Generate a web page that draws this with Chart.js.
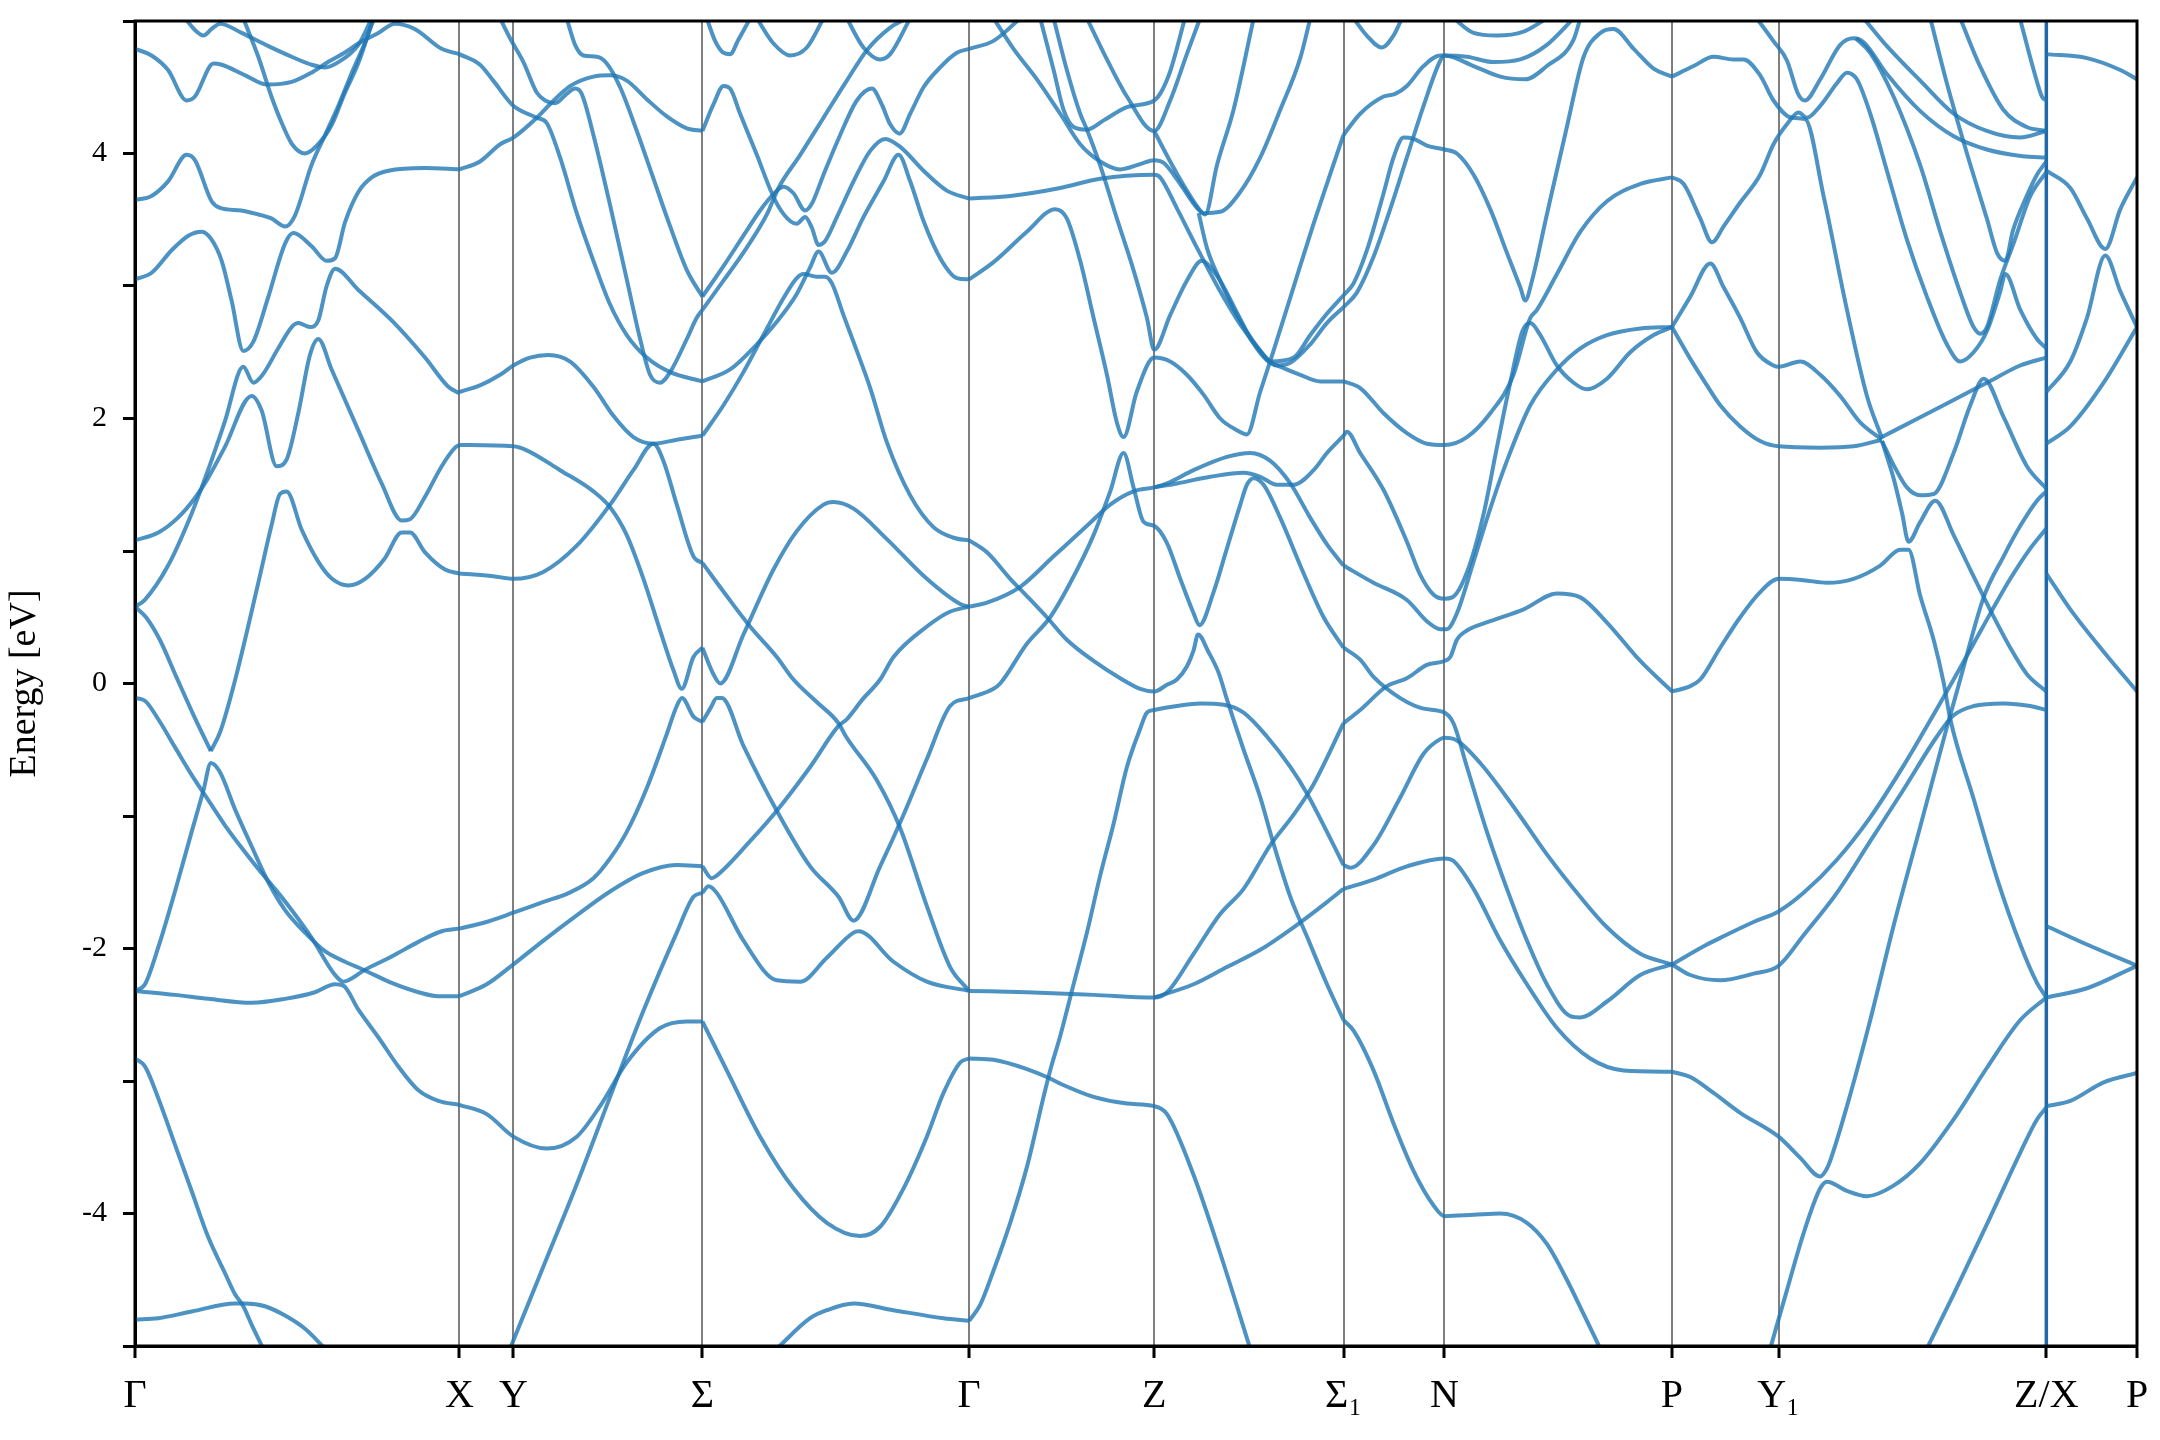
<!DOCTYPE html>
<html>
<head>
<meta charset="utf-8">
<title>Band structure</title>
<script src="https://cdn.jsdelivr.net/npm/chart.js@4.4.1/dist/chart.umd.min.js"></script>
<style>
  html, body { margin: 0; padding: 0; background: #fff; }
  canvas { display: block; }
</style>
</head>
<body>
<canvas id="chart" width="2160" height="1440"></canvas>
<script>
// k-path: high-symmetry points (path length units) and their labels
const kTicks = [0, 235.4, 274.6, 411.8, 605.4, 739.7, 877.1, 950.4, 1115.5, 1192.9, 1387.2, 1453]
const kLabels = ['Γ', 'X', 'Y', 'Σ', 'Γ', 'Z', 'Σ₁', 'N', 'P', 'Y₁', 'Z/X', 'P']
const eRange = [-5, 5]
const jumpK = 1387.2 // Z/X discontinuity

// bands as [k, E(eV)] pairs, one list per path piece

// Γ - X
const pathGX = [
  [[0,4.79],[12,4.74],[24,4.63],[37.5,4.40],[43.5,4.43],[57,4.68],[63,4.67],[80,4.59],[96,4.52],[113.7,4.54],[128,4.61],[140,4.69],[152,4.76],[162,4.83],[176.6,4.91],[188.7,4.98],[203,4.94],[222.6,4.79],[235.4,4.75]],
  [[36.3,5.02],[44.7,4.92],[49.6,4.89],[55.6,4.94],[61.7,4.98],[77.4,4.91],[96.8,4.81],[113.7,4.73],[128.2,4.67],[137.9,4.65],[147.6,4.69],[162.1,4.82],[171.8,5.02]],
  [[78.6,5.02],[89.5,4.73],[99,4.43],[106.5,4.23],[114,4.07],[123.5,4.0],[133,4.07],[143,4.22],[152,4.45],[162,4.68],[173,5.02]],
  [[0,3.65],[12,3.68],[24,3.79],[37.5,3.99],[43.5,3.95],[55.6,3.64],[61.7,3.59],[77,3.57],[89.5,3.54],[99,3.51],[109,3.45],[116,3.53],[128,3.91],[138,4.14],[148,4.37],[157,4.60],[167,4.84],[173.5,5.02]],
  [[0,3.05],[12.1,3.10],[26.6,3.27],[38.7,3.38],[48.4,3.41],[55.6,3.35],[62.9,3.19],[70.1,2.89],[78.6,2.51],[85.9,2.58],[96.8,2.92],[108.9,3.32],[114.9,3.40],[128.2,3.30],[139.1,3.19],[145.2,3.21],[152.4,3.48],[162.1,3.71],[171.8,3.82],[183.9,3.87],[210.5,3.89],[235.4,3.88]],
  [[0,0.58],[7,0.63],[24,0.89],[41,1.28],[53,1.61],[65,1.97],[78.6,2.39],[85.9,2.27],[91.9,2.32],[104,2.53],[113.7,2.69],[118.5,2.72],[127,2.69],[133,2.74],[139.1,3.0],[145.2,3.13],[162.1,2.97],[186.3,2.74],[210.5,2.46],[227.4,2.24],[235.4,2.19]],
  [[0,1.08],[17,1.14],[31,1.25],[43.5,1.40],[53,1.55],[65,1.78],[84.7,2.17],[91.9,2.06],[102.8,1.64],[110,1.69],[118.5,2.04],[127,2.48],[133,2.60],[142.7,2.37],[162.1,1.91],[179,1.51],[193.6,1.23],[199.6,1.24],[210.5,1.41],[222.6,1.64],[232.3,1.78],[235.4,1.80]],
  [[55,-0.51],[62,-0.36],[72,0.0],[89.5,0.76],[99,1.19],[105.2,1.43],[110,1.45],[121,1.16],[133,0.92],[143,0.79],[155,0.74],[167,0.79],[181,0.94],[193.6,1.14],[199.6,1.14],[210.5,0.99],[225,0.86],[235.4,0.83]],
  [[0,0.58],[8,0.50],[18,0.33],[30,0.05],[43,-0.25],[55,-0.51]],
  [[0,-0.11],[7.2,-0.13],[16.9,-0.27],[29,-0.48],[41.1,-0.69],[55.1,-0.91],[65.3,-1.07],[77.4,-1.24],[89.5,-1.40],[101.6,-1.55],[113.7,-1.71],[128.2,-1.92],[145.2,-2.20],[151.2,-2.25],[167,-2.16],[186.3,-2.06],[205.7,-1.95],[222.6,-1.87],[235.4,-1.85]],
  [[0,-2.32],[7.2,-2.27],[16.9,-1.99],[29,-1.57],[41.1,-1.12],[49.6,-0.81],[55.1,-0.60],[61.7,-0.67],[72.6,-0.95],[84.7,-1.23],[96.8,-1.50],[108.9,-1.71],[123.4,-1.88],[137.9,-2.02],[152.4,-2.10],[165.7,-2.16],[186.3,-2.26],[205.7,-2.33],[220,-2.36],[235.4,-2.36]],
  [[0,-2.32],[29,-2.35],[53.2,-2.38],[84.7,-2.41],[108.9,-2.38],[130.6,-2.33],[145.2,-2.27],[151.2,-2.28],[162,-2.46],[176.6,-2.67],[191.1,-2.89],[205.7,-3.07],[220.2,-3.15],[235.4,-3.18]],
  [[0,-2.83],[7.2,-2.89],[16.9,-3.13],[29,-3.48],[41.1,-3.83],[53.2,-4.18],[65.3,-4.45],[72.6,-4.61],[78.6,-4.70],[84.7,-4.84],[93.1,-5.02]],
  [[0,-4.80],[16.9,-4.79],[41.1,-4.74],[72.6,-4.68],[79.8,-4.68],[94.3,-4.70],[108.9,-4.77],[123.4,-4.87],[138,-5.02]]
]

// X - Y - Σ
const pathXS = [
  [[235.4,4.75],[250.4,4.67],[260,4.55],[274.6,4.36],[291.6,4.27],[298.8,4.23],[308.5,3.97],[320.6,3.55],[332.7,3.19],[344.8,2.86],[356.9,2.63],[371.4,2.46],[388.4,2.35],[411.8,2.28]],
  [[235.4,3.88],[250.4,3.94],[265,4.07],[274.6,4.12],[291.6,4.27],[301,4.37],[316,4.51],[332.7,4.58],[344.8,4.59],[356.9,4.55],[371.4,4.41],[386,4.28],[400.5,4.19],[411.8,4.17]],
  [[265,5.02],[272.2,4.87],[281.9,4.69],[291.6,4.46],[297.6,4.40],[304.9,4.38],[313.3,4.45],[319.4,4.49],[324.2,4.45],[332.7,4.14],[344.8,3.61],[356.9,3.05],[366.6,2.60],[373.8,2.33],[381.1,2.27],[388.4,2.35],[400.5,2.60],[407.7,2.76],[411.8,2.82]],
  [[313.3,5.02],[319.4,4.82],[325.4,4.74],[335.1,4.73],[342.4,4.68],[352.1,4.50],[364.2,4.17],[376.3,3.81],[388.4,3.45],[400.5,3.12],[411.8,2.92]],
  [[235.4,2.20],[250.4,2.25],[265,2.33],[274.6,2.40],[286.7,2.46],[300,2.48],[315.8,2.43],[332.7,2.24],[347.2,2.02],[361.7,1.86],[376.3,1.81],[393.2,1.84],[411.8,1.87]],
  [[235.4,1.80],[274.6,1.79],[284.3,1.76],[308.5,1.61],[332.7,1.45],[344.8,1.33],[356.9,1.12],[369,0.79],[381.1,0.40],[390.8,0.10],[396.8,-0.04],[405.3,0.20],[411.8,0.27]],
  [[235.4,0.83],[260,0.81],[274.6,0.79],[296,0.84],[320.6,1.04],[344.8,1.35],[361.7,1.61],[376.3,1.81],[383.5,1.68],[393.2,1.35],[405.3,0.96],[411.8,0.91]],
  [[235.4,-1.85],[255,-1.80],[274.6,-1.73],[296,-1.65],[315,-1.58],[332.7,-1.47],[344.8,-1.32],[356.9,-1.12],[371.4,-0.79],[386,-0.38],[393.2,-0.17],[397,-0.11],[405.3,-0.25],[411.8,-0.29]],
  [[235.4,-2.36],[255.3,-2.27],[274.6,-2.12],[296.4,-1.94],[320.6,-1.75],[344.8,-1.57],[369,-1.43],[393.2,-1.37],[411.8,-1.38]],
  [[272.2,-5.02],[296.4,-4.40],[320.6,-3.78],[344.8,-3.12],[369,-2.47],[393.2,-1.88],[405.3,-1.61],[411.8,-1.58]],
  [[235.4,-3.18],[255.3,-3.25],[274.6,-3.42],[298.8,-3.51],[320.6,-3.42],[337.5,-3.19],[356.9,-2.86],[381.1,-2.60],[400.5,-2.55],[411.8,-2.55]]
]

// Σ - Γ
const pathSG = [
  [[411.8,4.17],[419.8,4.37],[427.1,4.51],[431.9,4.49],[439.2,4.30],[451.3,3.99],[461,3.73],[467,3.60],[475.5,3.49],[480.3,3.47],[486.4,3.52],[491.2,3.44],[496.1,3.31],[500.9,3.34],[509.4,3.52],[521.5,3.79],[533.6,4.02],[544.5,4.11],[555.4,4.05],[572.3,3.87],[589.2,3.72],[605.4,3.66]],
  [[411.8,2.92],[427.1,3.15],[441.6,3.38],[453.7,3.57],[462.2,3.68],[470.7,3.75],[477.9,3.70],[486.4,3.57],[491.2,3.62],[499.7,3.84],[511.8,4.14],[523.9,4.40],[534.8,4.49],[542,4.37],[548.1,4.22],[554.9,4.15],[562.6,4.30],[572.3,4.50],[584.4,4.65],[596.5,4.76],[605.4,4.79]],
  [[411.8,2.82],[427.1,3.04],[444,3.29],[458.6,3.54],[467,3.74],[482.8,3.99],[499.7,4.27],[516.6,4.55],[531.2,4.78],[548.1,4.95],[560,5.02]],
  [[411.8,2.28],[431.9,2.37],[451.3,2.56],[465.8,2.73],[480.3,2.94],[490,3.14],[496.1,3.26],[505.8,3.10],[516.6,3.26],[528.7,3.52],[543.3,3.79],[554.2,3.99],[562.6,3.79],[572.3,3.49],[584.4,3.21],[596.5,3.06],[605.4,3.05]],
  [[411.8,1.87],[427.1,2.10],[441.6,2.35],[456.1,2.63],[470.7,2.91],[480.3,3.06],[485.2,3.09],[494.9,3.07],[500.9,3.07],[505.8,3.02],[514.2,2.78],[523.9,2.51],[533.6,2.23],[545.7,1.82],[562.6,1.42],[579.5,1.18],[594,1.10],[605.4,1.08]],
  [[415,5.02],[421,4.85],[427.1,4.76],[431.9,4.75],[438,4.86],[446.5,5.02]],
  [[451.3,5.02],[463.4,4.83],[475.5,4.74],[487.6,4.80],[499.7,5.02]],
  [[516.6,5.02],[528.7,4.80],[540.8,4.71],[548.1,4.75],[562.6,5.02]],
  [[411.8,0.27],[419.8,0.07],[424.7,0.0],[441.6,0.37],[463.4,0.86],[480.3,1.15],[499.7,1.35],[506.9,1.37],[521.5,1.32],[545.7,1.09],[574.7,0.79],[598.9,0.60],[605.4,0.58]],
  [[411.8,0.91],[429.5,0.66],[446.4,0.43],[465.8,0.20],[477.9,0.03],[494.8,-0.14],[510.6,-0.30],[516,-0.40],[538.4,-0.73],[555.3,-1.09],[574.7,-1.68],[591.6,-2.14],[605.4,-2.32]],
  [[411.8,-0.29],[418,-0.18],[422.2,-0.11],[425.9,-0.11],[441.6,-0.47],[465.8,-0.96],[490,-1.38],[510.6,-1.61],[521.5,-1.79],[540.8,-1.38],[557.8,-0.99],[574.7,-0.57],[591.6,-0.17],[605.4,-0.11]],
  [[411.8,-1.38],[418.6,-1.47],[422.2,-1.45],[446.4,-1.19],[465.8,-0.96],[490,-0.63],[510.6,-0.32],[516.6,-0.27],[528,-0.12],[540.8,0.03],[550.5,0.20],[574.7,0.43],[591,0.54],[605.4,0.58]],
  [[411.8,-1.58],[416.2,-1.53],[422.2,-1.58],[441.6,-1.94],[465.8,-2.24],[482.7,-2.25],[502.1,-2.07],[521.5,-1.88],[525.1,-1.87],[550.5,-2.10],[574.7,-2.25],[605.4,-2.32]],
  [[411.8,-2.55],[429.5,-2.92],[453.7,-3.42],[477.9,-3.81],[502.1,-4.07],[526.3,-4.17],[540.8,-4.10],[557.8,-3.81],[574.7,-3.42],[586.8,-3.09],[598.9,-2.86],[605.4,-2.83]],
  [[465.8,-5.02],[490,-4.79],[502.1,-4.73],[521.5,-4.68],[550.5,-4.73],[586.8,-4.79],[605.4,-4.81]]
]

// Γ - Z - Σ₁
const pathGZ = [
  [[605.4,4.79],[623.1,4.85],[642.5,5.02]],
  [[623.1,5.02],[637.6,4.79],[654.6,4.56],[671.5,4.30],[686,4.07],[700.5,3.94],[715,3.88],[729.6,3.92],[739.7,3.95],[746.5,3.93],[758.6,3.77],[770.7,3.59],[775.5,3.55],[787.6,3.56],[802.2,3.71],[816.7,3.97],[831.2,4.33],[845.7,4.72],[853,5.02]],
  [[657,5.02],[666.7,4.63],[673.9,4.33],[681.2,4.20],[690.9,4.18],[703,4.25],[719.9,4.35],[739.7,4.40],[744,4.45],[751.3,4.62],[762,5.02]],
  [[690.9,5.02],[703,4.76],[719.9,4.43],[739.7,4.17],[751.3,4.40],[763.4,4.75],[773,5.02]],
  [[739.7,4.17],[751.3,3.94],[763.4,3.72],[773.1,3.57],[776.7,3.54],[785.2,3.91],[797.3,4.33],[811.9,5.02]],
  [[666.7,5.02],[676.3,4.63],[686,4.30],[690.9,4.18],[700.5,3.91],[712.6,3.51],[724.7,3.12],[734.4,2.76],[739.7,2.52],[751.3,2.78],[763.4,3.04],[774.3,3.19],[778,3.17],[787.6,3.04],[799.7,2.80],[811.5,2.57],[821.5,2.44],[828.7,2.40],[838.5,2.42],[853,2.56],[865,2.72],[877.1,2.84]],
  [[605.4,3.66],[635.2,3.68],[671.5,3.74],[700.5,3.81],[739.7,3.84],[744,3.82],[756,3.59],[770.7,3.29],[787.6,2.96],[802.1,2.71],[816.6,2.51],[823.9,2.43],[841,2.46],[853,2.63],[865,2.79],[877.1,2.93]],
  [[772,3.55],[777.9,3.29],[787.6,3.04],[799.7,2.78],[811.8,2.58],[823.9,2.43],[833.6,2.38],[845.7,2.33],[860.2,2.28],[877.1,2.28]],
  [[605.4,3.05],[623.1,3.18],[647.3,3.41],[667.9,3.58],[676.3,3.51],[686,3.19],[695.7,2.76],[705.4,2.33],[712.6,1.97],[717.5,1.86],[727,2.20],[739.7,2.46],[751.3,2.43],[763.4,2.33],[775.5,2.18],[787.6,2.0],[800,1.91],[807,1.88],[816.6,2.20],[826.3,2.51],[840.8,2.99],[855.4,3.47],[869.9,3.92],[877.1,4.14]],
  [[605.4,0.58],[618.3,0.61],[642.5,0.73],[666.7,0.96],[690.9,1.19],[707.8,1.35],[724.7,1.45],[739.7,1.48],[749,1.51],[768.3,1.61],[792.5,1.71],[809.4,1.74],[824,1.68],[838.5,1.51],[853,1.25],[865.1,1.05],[877.1,0.89]],
  [[739.7,1.48],[756.2,1.51],[780.4,1.56],[804.6,1.59],[816.7,1.56],[828.8,1.50],[841,1.50],[855.4,1.61],[865.1,1.74],[877.1,1.87]],
  [[605.4,-0.11],[623.1,-0.04],[627.9,0.0],[647.3,0.30],[664.2,0.50],[678.8,0.76],[695.7,1.12],[707.8,1.45],[717.5,1.74],[724.7,1.48],[732,1.22],[739.7,1.19],[749,1.06],[758.6,0.79],[768.3,0.53],[772.5,0.44],[782.8,0.69],[792.5,1.02],[802.2,1.35],[807,1.50],[811.9,1.55],[819.1,1.50],[831.2,1.25],[848.2,0.83],[862.7,0.50],[877.1,0.27]],
  [[605.4,1.08],[618.3,0.99],[635.2,0.79],[647.3,0.66],[661.8,0.50],[676.3,0.33],[695.7,0.17],[715,0.04],[729.6,-0.04],[739.7,-0.06],[749,-0.01],[756.2,0.03],[763.5,0.13],[768.3,0.25],[771.5,0.37],[779,0.24],[786.5,0.08],[792.5,-0.12],[804.6,-0.50],[816.7,-0.86],[825.2,-1.17],[838.5,-1.61],[850.6,-1.91],[865.1,-2.27],[877.1,-2.54]],
  [[605.4,-4.81],[613.4,-4.69],[623.1,-4.43],[635.2,-4.07],[647.3,-3.65],[659.4,-3.12],[664.2,-2.92],[671.5,-2.66],[681.2,-2.27],[690.9,-1.88],[700.5,-1.45],[710.2,-1.06],[719.9,-0.63],[729.6,-0.34],[734.4,-0.22],[739.7,-0.20],[756.2,-0.17],[773.1,-0.15],[790.1,-0.16],[804.6,-0.22],[821.5,-0.40],[838.5,-0.63],[850.6,-0.83],[865.1,-1.12],[877.1,-1.37]],
  [[605.4,-2.32],[647.3,-2.33],[695.7,-2.35],[739.7,-2.37],[749,-2.33],[768.3,-2.04],[787.6,-1.74],[804.6,-1.55],[824,-1.22],[840.9,-0.99],[855.4,-0.76],[877.1,-0.30]],
  [[739.7,-2.37],[768.3,-2.27],[792.5,-2.14],[816.7,-2.01],[840.9,-1.84],[865.1,-1.65],[877.1,-1.55]],
  [[605.4,-2.83],[623.1,-2.84],[647.3,-2.91],[661.8,-2.97],[671.5,-3.02],[695.7,-3.12],[719.9,-3.17],[739.7,-3.19],[749,-3.25],[768.3,-3.71],[787.6,-4.30],[809.4,-5.02]]
]

// Σ₁ - N - P
const pathSP = [
  [[877.1,4.14],[889.2,4.30],[906.2,4.43],[914.6,4.45],[923.1,4.51],[935.2,4.66],[947.3,4.74],[950.4,4.74],[966.7,4.73],[986,4.69],[1005.4,4.71],[1024.7,4.82],[1044.1,5.02]],
  [[877.1,2.84],[886.8,2.95],[898.9,3.22],[911,3.58],[923.1,3.97],[935.2,4.36],[947.3,4.70],[950.4,4.74],[971.5,4.66],[990.9,4.58],[1009,4.56],[1024.7,4.66],[1044.1,4.86],[1049,5.02]],
  [[877.1,2.93],[884.4,3.02],[894.1,3.27],[906.2,3.70],[913.4,3.97],[920.7,4.12],[928,4.11],[937.6,4.06],[950.4,4.03],[959.4,4.0],[971.5,3.84],[983.6,3.58],[995.7,3.25],[1005.4,2.99],[1009,2.89],[1013.9,3.04],[1024.7,3.54],[1039.2,4.20],[1051.4,4.73],[1063.5,4.91],[1073.1,4.94],[1087.7,4.79],[1102.2,4.64],[1115.5,4.58]],
  [[957,5.02],[971.5,4.91],[988.4,4.89],[1007.8,4.92],[1024.7,5.02]],
  [[884.4,5.02],[894,4.89],[905,4.80],[913.4,4.89],[919.5,5.02]],
  [[877.1,2.28],[889.2,2.23],[906.2,2.04],[923.1,1.89],[937.6,1.81],[950.4,1.80],[966.7,1.86],[983.6,2.04],[1000.5,2.33],[1010.3,2.69],[1012.7,2.76],[1017.5,2.82],[1032,3.09],[1049,3.41],[1068.3,3.64],[1092.5,3.77],[1115.5,3.82]],
  [[877.1,1.87],[879.5,1.90],[889.2,1.74],[906.2,1.46],[923.1,1.07],[932.8,0.82],[942.5,0.67],[950.4,0.64],[956,0.65],[966.7,0.84],[978.8,1.28],[988.4,1.78],[998.1,2.27],[1007,2.66],[1012.7,2.72],[1019.9,2.63],[1032,2.40],[1044.1,2.27],[1053.8,2.22],[1068.3,2.30],[1085.2,2.50],[1102.2,2.63],[1115.5,2.69]],
  [[877.1,0.89],[898.9,0.76],[923.1,0.63],[937.6,0.47],[947.3,0.41],[952,0.41],[959.4,0.53],[971.5,0.92],[983.6,1.32],[995.7,1.68],[1012.7,2.10],[1032,2.37],[1049,2.53],[1068.3,2.63],[1092.5,2.68],[1115.5,2.69]],
  [[877.1,0.27],[889.2,0.18],[898.9,0.05],[918.3,-0.11],[935.2,-0.19],[950.4,-0.22],[956.9,-0.30],[966.7,-0.63],[981.2,-1.12],[995.7,-1.55],[1010.2,-1.94],[1024.7,-2.27],[1041.7,-2.51],[1049,-2.52],[1068.3,-2.40],[1092.5,-2.20],[1115.5,-2.12]],
  [[877.1,-0.30],[889.2,-0.20],[908.6,-0.02],[923.1,0.04],[937.6,0.14],[950.4,0.17],[954.6,0.20],[959.4,0.33],[966.7,0.40],[983.6,0.47],[1007.8,0.56],[1032,0.68],[1049,0.65],[1068.3,0.46],[1092.5,0.17],[1115.5,-0.06]],
  [[877.1,-1.37],[882,-1.39],[898.9,-1.22],[918.3,-0.86],[935.2,-0.53],[947.3,-0.42],[950.4,-0.41],[959.4,-0.43],[976.3,-0.60],[1000.5,-0.93],[1024.7,-1.29],[1048.9,-1.61],[1068.3,-1.84],[1092.5,-2.04],[1115.5,-2.12]],
  [[877.1,-1.55],[898.9,-1.48],[923.1,-1.38],[950.4,-1.32],[957,-1.34],[971.5,-1.55],[990.9,-1.94],[1010.2,-2.27],[1032,-2.60],[1056.2,-2.83],[1080.4,-2.92],[1115.5,-2.93]],
  [[877.1,-2.54],[884.4,-2.62],[898.9,-2.92],[913.4,-3.32],[928,-3.68],[942.5,-3.94],[950.4,-4.02],[971.5,-4.01],[990.9,-4.0],[1010.2,-4.07],[1024.7,-4.23],[1039.2,-4.50],[1051.4,-4.76],[1063.5,-5.02]]
]

// P - Y₁ - Z
const pathPZ = [
  [[1115.5,4.58],[1131.2,4.66],[1145.7,4.73],[1160,4.71],[1167.4,4.71],[1179.5,4.59],[1189.2,4.40],[1202.5,4.27],[1212.2,4.26],[1225.5,3.68],[1242.5,2.82],[1257,2.17],[1267.9,1.85]],
  [[1115.5,3.82],[1124,3.77],[1136,3.51],[1144.5,3.33],[1153,3.45],[1165,3.63],[1179.5,3.84],[1189.2,4.07],[1198.9,4.22],[1207.4,4.31],[1213.4,4.27],[1223.1,4.36],[1235.2,4.53],[1242.5,4.61],[1249.7,4.56],[1259.4,4.30],[1271.5,3.87],[1286,3.35],[1300.5,2.92],[1315,2.56],[1324.7,2.43],[1334.4,2.50],[1344.1,2.66],[1353.8,2.96],[1357.4,3.09],[1368.3,2.82],[1380.4,2.60],[1387.2,2.53]],
  [[1115.5,2.69],[1128.8,2.92],[1143.3,3.17],[1153,2.99],[1165,2.76],[1177.1,2.50],[1189.2,2.40],[1192.9,2.39],[1208.6,2.43],[1223.1,2.33],[1237.6,2.17],[1252.1,1.97],[1267.9,1.84]],
  [[1115.5,2.69],[1128.8,2.45],[1140.9,2.25],[1150.5,2.10],[1165,1.94],[1179.5,1.83],[1192.9,1.79],[1223.1,1.78],[1247.3,1.79],[1267.9,1.84]],
  [[1267.9,1.86],[1295.7,2.01],[1319.9,2.14],[1344.1,2.27],[1368.3,2.40],[1387.2,2.46]],
  [[1267.9,1.83],[1276.3,1.65],[1286,1.48],[1295.7,1.42],[1305.4,1.43],[1319.9,1.74],[1332,2.10],[1341.7,2.30],[1356.2,2.01],[1373.1,1.64],[1387.2,1.47]],
  [[1267.9,1.83],[1276.3,1.55],[1282.4,1.29],[1287.2,1.07],[1295.7,1.22],[1306.6,1.38],[1319.9,1.12],[1332,0.86],[1347.7,0.53],[1361,0.27],[1373.1,0.07],[1387.2,-0.06]],
  [[1115.5,-0.06],[1128.8,-0.02],[1136,0.03],[1150.5,0.27],[1165,0.50],[1179.5,0.69],[1192.9,0.79],[1211,0.78],[1228,0.76],[1247.3,0.79],[1266.7,0.89],[1281.2,1.01],[1287.2,1.01],[1295.7,0.66],[1305.4,0.33],[1312.6,0.01],[1317.5,-0.27],[1334.4,-0.87],[1351.4,-1.47],[1368.3,-1.97],[1380.4,-2.26],[1387.2,-2.37]],
  [[1115.5,-2.12],[1140.9,-1.97],[1150.5,-1.92],[1174.7,-1.80],[1192.9,-1.72],[1211,-1.58],[1235.2,-1.33],[1259.4,-1.01],[1283.6,-0.62],[1307.8,-0.19],[1319.9,0.03],[1334.4,0.30],[1347.7,0.55],[1361,0.79],[1375.6,1.02],[1387.2,1.17]],
  [[1115.5,-2.12],[1128.8,-2.20],[1150.5,-2.24],[1174.7,-2.19],[1192.9,-2.13],[1211,-1.90],[1235.2,-1.58],[1259.4,-1.19],[1283.6,-0.80],[1307.8,-0.40],[1319.9,-0.24],[1334.4,-0.17],[1356.2,-0.15],[1375.6,-0.17],[1387.2,-0.20]],
  [[1115.5,-2.93],[1128.8,-2.97],[1145.7,-3.09],[1165,-3.24],[1192.9,-3.42],[1208.6,-3.58],[1223.1,-3.72],[1228,-3.66],[1230.4,-3.60],[1242.5,-3.19],[1259.4,-2.54],[1276.3,-1.83],[1295.7,-1.08],[1315,-0.33],[1324.7,0.03],[1341.7,0.65],[1356.2,0.96],[1368.3,1.19],[1380.4,1.38],[1387.2,1.45]],
  [[1186.8,-5.02],[1198.9,-4.58],[1211,-4.15],[1223.1,-3.81],[1228,-3.76],[1242.5,-3.83],[1257,-3.87],[1276.3,-3.79],[1295.7,-3.62],[1319.9,-3.29],[1344.1,-2.90],[1368.3,-2.54],[1387.2,-2.37]],
  [[1300.5,-5.02],[1319.9,-4.61],[1344.1,-4.08],[1368.3,-3.54],[1380.4,-3.29],[1387.2,-3.20]],
  [[1177,5.02],[1189,4.85],[1199,4.70],[1207,4.45],[1212,4.40],[1223.1,4.56],[1237.6,4.82],[1247.3,4.87],[1254.6,4.84],[1271.5,4.60],[1295.7,4.32],[1320,4.13],[1344,4.03],[1370,3.98],[1387.2,3.97]],
  [[1254.6,5.02],[1271.5,4.81],[1295.7,4.55],[1320,4.30],[1344,4.17],[1368,4.12],[1387.2,4.17]],
  [[1249,4.87],[1259.4,4.76],[1276.3,4.43],[1295.7,3.91],[1310.2,3.41],[1324.7,2.95],[1334.4,2.69],[1339.3,2.64],[1344.1,2.69],[1353.8,3.05],[1363.4,3.32],[1375.6,3.68],[1387.2,3.86]],
  [[1303,5.02],[1315,4.53],[1329.6,4.0],[1344,3.51],[1351.4,3.25],[1357.4,3.19],[1363,3.42],[1373,3.68],[1380.4,3.84],[1387.2,3.94]],
  [[1324.7,5.02],[1339,4.66],[1356,4.33],[1373,4.20],[1387.2,4.17]],
  [[1368,5.02],[1378,4.63],[1384,4.43],[1387.2,4.40]]
]

// X - P (after the Z/X jump)
const pathXP = [
  [[1387.2,4.75],[1416.7,4.72],[1440.9,4.63],[1453,4.56]],
  [[1387.2,3.87],[1404.6,3.74],[1416.7,3.51],[1430,3.28],[1440.9,3.58],[1453,3.82]],
  [[1387.2,2.20],[1404.6,2.43],[1416.7,2.76],[1430,3.23],[1440.9,2.96],[1453,2.69]],
  [[1387.2,1.81],[1404.6,1.94],[1428.8,2.27],[1453,2.69]],
  [[1387.2,0.83],[1404.6,0.56],[1428.8,0.24],[1453,-0.06]],
  [[1387.2,-1.83],[1416.7,-1.97],[1453,-2.13]],
  [[1387.2,-2.37],[1416.7,-2.30],[1453,-2.13]],
  [[1387.2,-3.19],[1404.6,-3.15],[1428.8,-3.01],[1453,-2.94]]
]

const bandColor = 'rgba(31, 119, 180, 0.8)'
const serif = "'Liberation Serif', 'DejaVu Serif', serif"

const bands = [].concat(pathGX, pathXS, pathSG, pathGZ, pathSP, pathPZ, pathXP)

const datasets = bands.map(band => ({
  data: band.map(([k, e]) => ({ x: k, y: e })),
  showLine: true,
  borderColor: bandColor,
  borderWidth: 4,
  pointRadius: 0,
  cubicInterpolationMode: 'monotone',
  clip: 0
}))

// vertical jump line at Z/X
datasets.push({
  data: [{ x: jumpK, y: eRange[0] }, { x: jumpK, y: eRange[1] }],
  showLine: true,
  borderColor: 'rgba(31, 105, 170, 1)',
  borderWidth: 3.5,
  pointRadius: 0,
  tension: 0,
  clip: 0
})

// box round the plot area
const frame = {
  id: 'frame',
  afterDraw (chart) {
    const { ctx, chartArea: a } = chart
    ctx.save()
    ctx.strokeStyle = '#000'
    ctx.lineWidth = 3
    ctx.strokeRect(a.left, a.top, a.right - a.left, a.bottom - a.top)
    ctx.restore()
  }
}

const ctx = document.getElementById('chart').getContext('2d')

new Chart(ctx, {
  type: 'scatter',
  data: { datasets },
  plugins: [frame],
  options: {
    responsive: false,
    animation: false,
    devicePixelRatio: 1,
    layout: { padding: { top: 21, right: 23, left: 0, bottom: 0 } },
    plugins: { legend: { display: false }, tooltip: { enabled: false } },
    scales: {
      x: {
        type: 'linear',
        min: kTicks[0],
        max: kTicks[kTicks.length - 1],
        afterBuildTicks: axis => { axis.ticks = kTicks.map(v => ({ value: v })) },
        afterFit: axis => {
          axis.height = 94
          axis.paddingLeft = 0
          axis.paddingRight = 0
        },
        ticks: {
          autoSkip: false,
          maxRotation: 0,
          minRotation: 0,
          padding: 14,
          color: '#000',
          font: { family: serif, size: 40 },
          callback: (v, i) => kLabels[i]
        },
        grid: {
          color: 'rgba(0, 0, 0, 0.5)',
          lineWidth: 2,
          drawTicks: true,
          tickLength: 12,
          tickWidth: 3,
          tickColor: '#000'
        },
        border: { display: true, color: '#000', width: 3 }
      },
      y: {
        type: 'linear',
        min: eRange[0],
        max: eRange[1],
        afterFit: axis => {
          axis.width = 135
          axis.paddingTop = 0
          axis.paddingBottom = 0
        },
        ticks: {
          stepSize: 1,
          padding: 16,
          color: '#000',
          font: { family: serif, size: 30 },
          callback: v => (v % 2 === 0 ? String(v) : '')
        },
        grid: {
          drawOnChartArea: false,
          drawTicks: true,
          tickLength: 12,
          tickWidth: 3,
          tickColor: '#000'
        },
        border: { display: true, color: '#000', width: 3 },
        title: {
          display: true,
          text: 'Energy [eV]',
          color: '#000',
          font: { family: serif, size: 38 },
          padding: { top: 2, bottom: 0 }
        }
      }
    }
  }
})
</script>
</body>
</html>
